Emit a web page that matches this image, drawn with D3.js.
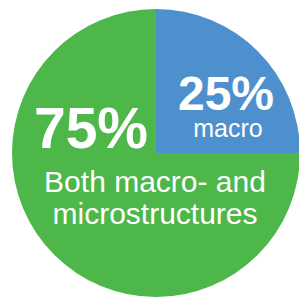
<!DOCTYPE html>
<html>
<head>
<meta charset="utf-8">
<script src="https://cdn.jsdelivr.net/npm/d3@7"></script>
<style>
html,body{margin:0;padding:0;background:#fff;}
svg{display:block;}
text{font-family:"Liberation Sans",Arial,sans-serif;fill:#fff;}
</style>
</head>
<body>
<svg id="chart" width="299" height="297"></svg>
<script>
const categories = ["macro", "Both macro- and microstructures"];
const categoryLines = [["macro"], ["Both macro- and", "microstructures"]];
const values = [25, 75];
const pctLabels = ["25%", "75%"];
const colors = ["#4e90cd", "#4db749"];

const svg = d3.select("#chart");
const cx = 156, cy = 153, r = 144;
const g = svg.append("g").attr("transform", `translate(${cx},${cy})`);

const pie = d3.pie().sort(null).startAngle(0).endAngle(2 * Math.PI);
const arcs = pie(values);
const arc = d3.arc().innerRadius(0).outerRadius(r);

g.selectAll("path").data(arcs).enter().append("path")
  .attr("d", arc)
  .attr("fill", (d, i) => colors[i]);

// macro label (25%)
g.append("text").attr("x", 70).attr("y", -43)
  .attr("text-anchor", "middle").attr("font-weight", "bold").attr("font-size", 48)
  .text(pctLabels[0]);
g.append("text").attr("x", 72).attr("y", -16)
  .attr("text-anchor", "middle").attr("font-size", 25)
  .text(categoryLines[0][0]);

// both label (75%)
g.append("text").attr("x", -65).attr("y", -5)
  .attr("text-anchor", "middle").attr("font-weight", "bold").attr("font-size", 57)
  .text(pctLabels[1]);
const t = g.append("text").attr("text-anchor", "middle").attr("font-size", 30);
t.selectAll("tspan").data(categoryLines[1]).enter().append("tspan")
  .attr("x", -1).attr("y", (d, i) => 39 + i * 32).text(d => d);
</script>
</body>
</html>
